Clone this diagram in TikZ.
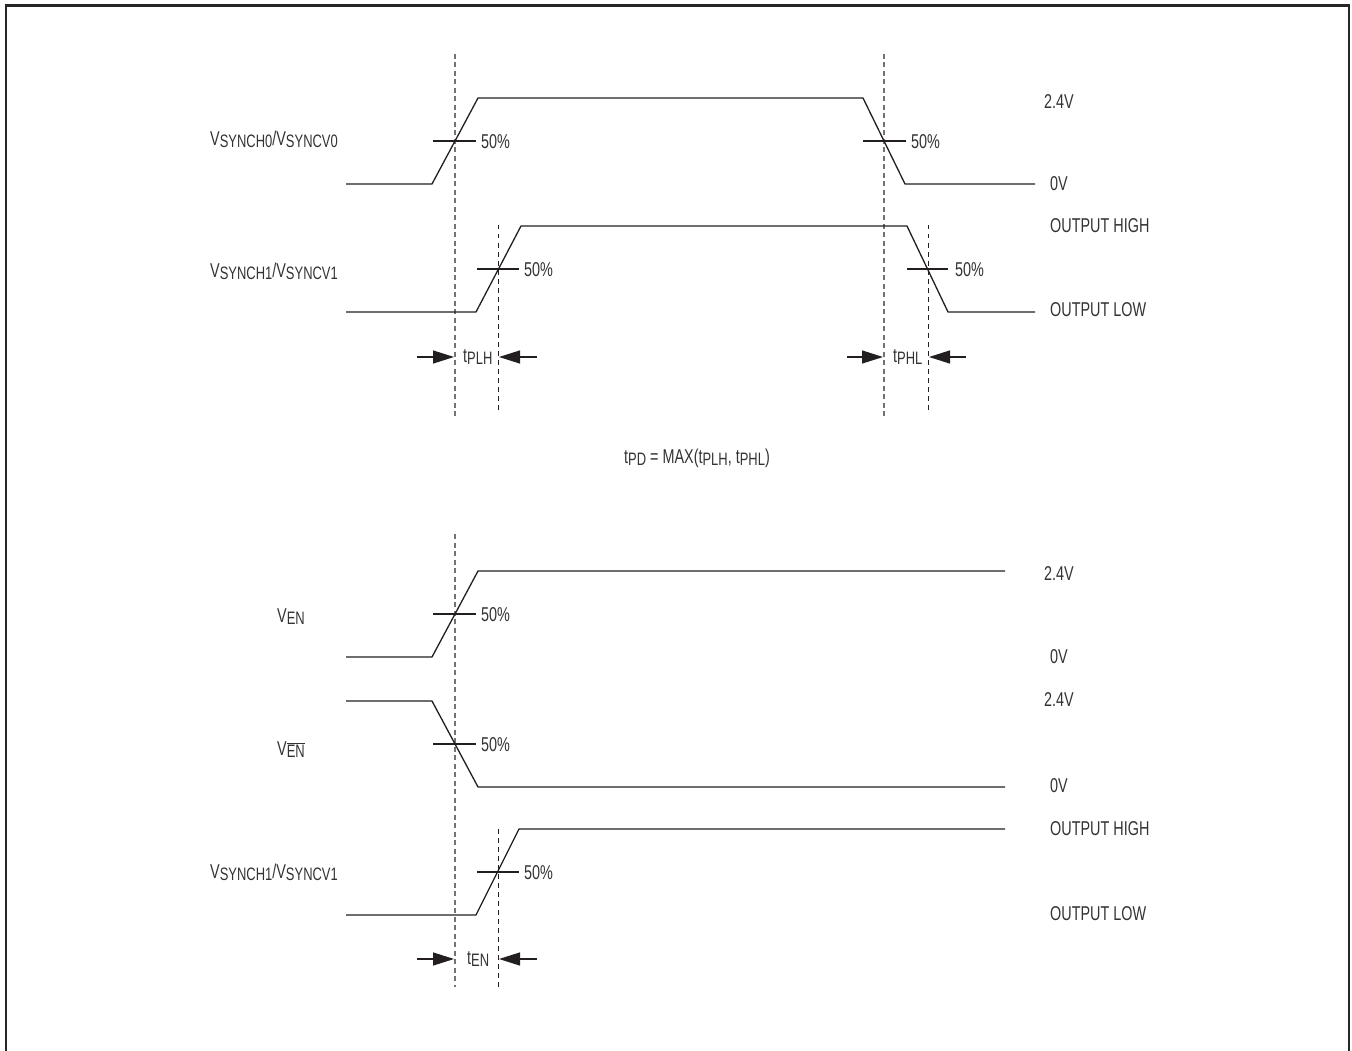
\documentclass[tikz,border=0pt]{standalone}
\usepackage{fontspec}
\setmainfont{Liberation Sans}[FakeStretch=0.72]
\usetikzlibrary{arrows.meta}
\newcommand{\lowsub}[1]{\raisebox{-2pt}{\fontsize{18}{19}\selectfont #1}}
\definecolor{txt}{HTML}{333333}
\definecolor{ln}{HTML}{231F20}
\begin{document}
\begin{tikzpicture}[x=1pt,y=-1pt,
  every node/.style={font=\fontsize{20}{24}\selectfont, text=txt, inner sep=0pt},
  sig/.style={draw=ln, line width=1.3pt, line join=miter},
  tick/.style={draw=ln, line width=1.3pt},
  longdash/.style={draw=black!55, line width=1.5pt, dash pattern=on 5pt off 3.5pt},
  shortdash/.style={draw=ln, line width=0.9pt, dash pattern=on 4.5pt off 4.5pt},
  tarrow/.style={draw=ln, line width=1.3pt, -{Triangle[length=21pt,width=13pt]}},
  lvl/.style={anchor=west},
  pct/.style={anchor=west},
  signame/.style={anchor=base west}]
\useasboundingbox (0,0) rectangle (1352,1051);
% frame
\draw[line width=2.2pt, draw=black!85] (6,1060) -- (6,5.5) -- (1349,5.5) -- (1349,1060);

% ---------- upper section ----------
\draw[longdash] (455,54) -- (455,418);
\draw[longdash] (884,54) -- (884,418);
\draw[shortdash] (498,225) -- (498,413);
\draw[shortdash] (928,225) -- (928,413);

\draw[sig] (346,184) -- (432,184) -- (478,98) -- (863,98) -- (905,184) -- (1035,184);
\draw[tick] (433,141) -- (476,141);
\draw[tick] (863,141) -- (906,141);
\draw[sig] (346,312) -- (476,312) -- (521,226) -- (907,226) -- (948,312) -- (1035,312);
\draw[tick] (477,269) -- (519,269);
\draw[tick] (907,269) -- (948,269);

\node[signame] (n0) at (210,146) {V\lowsub{SYNCH0}/V\lowsub{SYNCV0}};
\node[signame] (n1) at (210,277) {V\lowsub{SYNCH1}/V\lowsub{SYNCV1}};

\node[pct] (p1) at (481,142) {50\%};
\node[pct] (p2) at (911,142) {50\%};
\node[pct] (p3) at (524,270) {50\%};
\node[pct] (p4) at (955,270) {50\%};

\node[lvl] (l1) at (1044,102) {2.4V};
\node[lvl] (l2) at (1050,184) {0V};
\node[lvl] (l3) at (1050,226) {OUTPUT HIGH};
\node[lvl] (l4) at (1050,310) {OUTPUT LOW};

\coordinate (a1s) at (417,357); \coordinate (a1e) at (454,357);
\coordinate (a2s) at (537,357); \coordinate (a2e) at (499,357);
\coordinate (a3s) at (847,357); \coordinate (a3e) at (883,357);
\coordinate (a4s) at (966,357); \coordinate (a4e) at (929,357);
\draw[tarrow] (a1s) -- (a1e);
\draw[tarrow] (a2s) -- (a2e);
\draw[tarrow] (a3s) -- (a3e);
\draw[tarrow] (a4s) -- (a4e);
\node[anchor=base west] (tplh) at (463,362) {t\lowsub{PLH}};
\node[anchor=base west] (tphl) at (893,362) {t\lowsub{PHL}};

\node[anchor=base] (tpd) at (697,463) {t\lowsub{PD} = MAX(t\lowsub{PLH}, t\lowsub{PHL})};

% ---------- lower section ----------
\draw[longdash] (455,534) -- (455,987);
\draw[shortdash] (498,829) -- (498,987);

\draw[sig] (346,657) -- (432,657) -- (478,571) -- (1005,571);
\draw[tick] (433,614) -- (476,614);
\draw[sig] (346,701) -- (432,701) -- (478,787) -- (1005,787);
\draw[tick] (433,744) -- (476,744);
\draw[sig] (346,915) -- (476,915) -- (519,829) -- (1005,829);
\draw[tick] (477,872) -- (519,872);

\node[signame] (n2) at (277,622) {V\lowsub{EN}};
\node[signame] (n3) at (277,755) {V\lowsub{$\overline{\hbox{EN}}$}};
\node[signame] (n4) at (210,878) {V\lowsub{SYNCH1}/V\lowsub{SYNCV1}};

\node[pct] (p5) at (481,615) {50\%};
\node[pct] (p6) at (481,745) {50\%};
\node[pct] (p7) at (524,873) {50\%};

\node[lvl] (l5) at (1044,574) {2.4V};
\node[lvl] (l6) at (1050,657) {0V};
\node[lvl] (l7) at (1044,700) {2.4V};
\node[lvl] (l8) at (1050,786) {0V};
\node[lvl] (l9) at (1050,829) {OUTPUT HIGH};
\node[lvl] (l10) at (1050,914) {OUTPUT LOW};

\coordinate (a5s) at (417,959); \coordinate (a5e) at (454,959);
\coordinate (a6s) at (537,959); \coordinate (a6e) at (499,959);
\draw[tarrow] (a5s) -- (a5e);
\draw[tarrow] (a6s) -- (a6e);
\node[anchor=base west] (ten) at (467,964) {t\lowsub{EN}};
\end{tikzpicture}
\end{document}
